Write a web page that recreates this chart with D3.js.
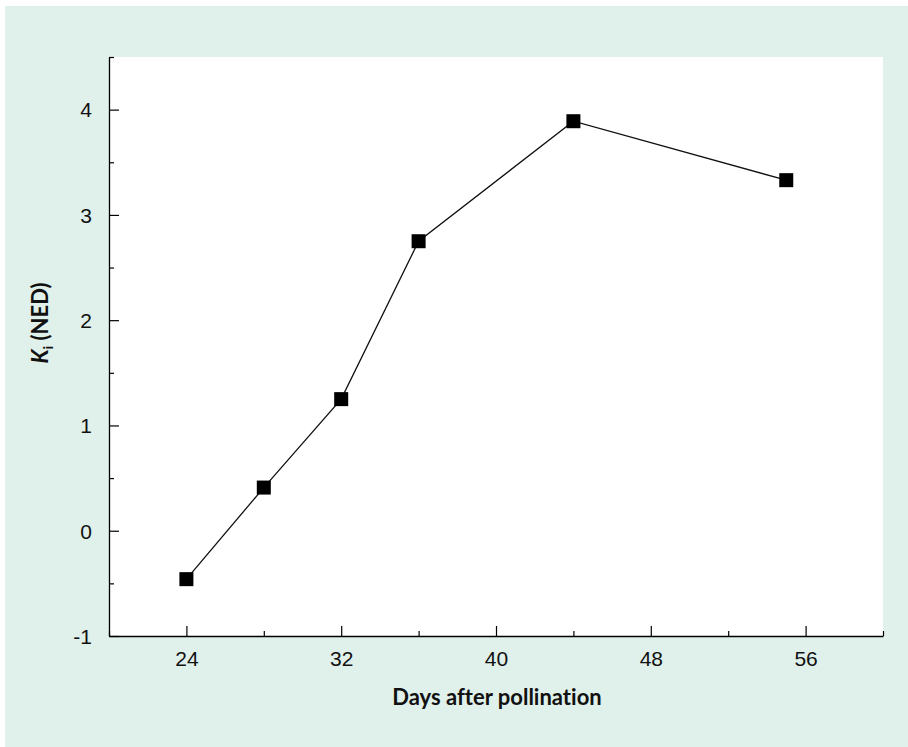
<!DOCTYPE html>
<html>
<head>
<meta charset="utf-8">
<script src="https://cdn.jsdelivr.net/npm/d3@7"></script>
<style>
  html, body { margin: 0; padding: 0; background: #ffffff; }
  svg { display: block; font-family: Lato, "Open Sans", sans-serif; font-variant-ligatures: none; }
</style>
</head>
<body>
<svg id="chart" width="908" height="747"></svg>
<script>
// Ki (NED) against days after pollination
const days = [24, 28, 32, 36, 44, 55];
const kiValues = [-0.46, 0.41, 1.25, 2.75, 3.89, 3.33];
const xMajorTicks = [24, 32, 40, 48, 56];
const xMinorTicks = [20, 28, 36, 44, 52, 60];
const yMajorTicks = [-1, 0, 1, 2, 3, 4];
const yMinorTicks = [-0.5, 0.5, 1.5, 2.5, 3.5, 4.5];

const svg = d3.select("#chart");
const plotLeft = 109, plotRight = 883, plotTop = 57, plotBottom = 636;

// panel backgrounds
svg.append("rect").attr("x", 5).attr("y", 6).attr("width", 903).attr("height", 741).attr("fill", "#e0f0ea");
svg.append("rect").attr("x", plotLeft).attr("y", plotTop)
  .attr("width", plotRight - plotLeft).attr("height", plotBottom - plotTop).attr("fill", "#ffffff");

const x = d3.scaleLinear().domain([20, 60]).range([plotLeft, plotRight]);
const y = d3.scaleLinear().domain([-1, 4.5]).range([plotBottom, plotTop]);

const axisStyle = g => {
  g.select(".domain").attr("stroke", "#000").attr("stroke-width", 1.3);
  g.selectAll(".tick line").attr("stroke", "#000").attr("stroke-width", 1.2);
};
const plainInt = d => String(d);  // hyphen-minus for negatives

// x axis: ticks pointing up into the plot
svg.append("g").attr("transform", `translate(0,${plotBottom})`)
  .call(d3.axisTop(x).tickValues(xMinorTicks).tickSize(5).tickSizeOuter(0).tickFormat(""))
  .call(axisStyle);
const gx = svg.append("g").attr("transform", `translate(0,${plotBottom})`)
  .call(d3.axisTop(x).tickValues(xMajorTicks).tickSize(10).tickSizeOuter(0).tickFormat(plainInt))
  .call(axisStyle);
gx.select(".domain").remove();
gx.selectAll(".tick text").attr("y", 30).attr("dy", 0).attr("font-size", 21).attr("fill", "#111");

// y axis: ticks pointing right into the plot
svg.append("g").attr("transform", `translate(${plotLeft},0)`)
  .call(d3.axisRight(y).tickValues(yMinorTicks).tickSize(5).tickSizeOuter(0).tickFormat(""))
  .call(axisStyle);
const gy = svg.append("g").attr("transform", `translate(${plotLeft},0)`)
  .call(d3.axisRight(y).tickValues(yMajorTicks).tickSize(10).tickSizeOuter(0).tickFormat(plainInt))
  .call(axisStyle);
gy.select(".domain").remove();
gy.selectAll(".tick text").attr("x", -17).attr("text-anchor", "end").attr("dy", "0.35em")
  .attr("font-size", 21).attr("fill", "#111");

// connecting line
const line = d3.line().x((d, i) => x(days[i])).y(d => y(d));
svg.append("path").datum(kiValues).attr("d", line)
  .attr("fill", "none").attr("stroke", "#111").attr("stroke-width", 1.3);

// square markers
const s = 14;
svg.selectAll("rect.pt").data(kiValues).join("rect").attr("class", "pt")
  .attr("x", (d, i) => x(days[i]) - s / 2).attr("y", d => y(d) - s / 2)
  .attr("width", s).attr("height", s).attr("fill", "#000");

// axis titles
svg.append("text").attr("x", 497).attr("y", 705).attr("text-anchor", "middle")
  .attr("font-size", 22).attr("font-weight", "bold").attr("fill", "#111").text("Days after pollination");

const yt = svg.append("text").attr("transform", "translate(48,323) rotate(-90)")
  .attr("text-anchor", "middle").attr("font-size", 22).attr("font-weight", "bold").attr("fill", "#111");
yt.append("tspan").attr("font-style", "italic").text("K");
yt.append("tspan").attr("font-size", 14).attr("dy", 5).text("i");
yt.append("tspan").attr("dy", -5).text(" (NED)");
</script>
</body>
</html>
